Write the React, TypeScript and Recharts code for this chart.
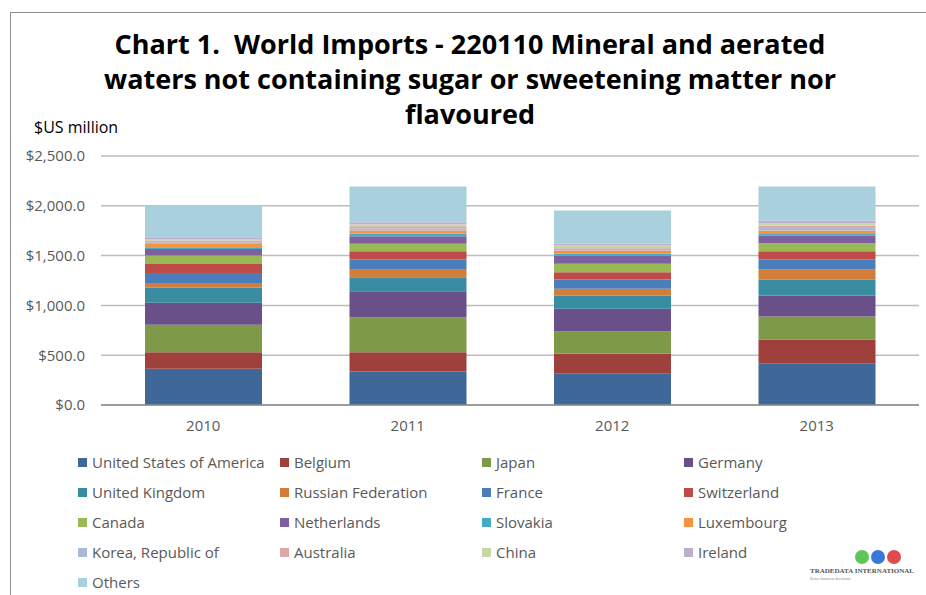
import React from "react";
import { BarChart, Bar, XAxis, YAxis, CartesianGrid } from "recharts";

// categories
const YEARS = ["2010", "2011", "2012", "2013"];

// series values ($US million), stacked bottom to top
const USA = [363, 336, 313, 413];
const BELGIUM = [167, 194, 201, 245];
const JAPAN = [275, 352, 224, 230];
const GERMANY = [221, 261, 228, 211];
const UK = [150, 140, 133, 158];
const RUSSIA = [50, 74, 67, 107];
const FRANCE = [100, 104, 94, 97];
const SWITZERLAND = [90, 83, 73, 83];
const CANADA = [84, 74, 84, 81];
const NETHERLANDS = [67, 77, 84, 77];
const SLOVAKIA = [17, 24, 17, 23];
const LUXEMBOURG = [33, 33, 33, 27];
const KOREA = [17, 21, 17, 25];
const AUSTRALIA = [17, 21, 17, 25];
const CHINA = [16, 20, 16, 25];
const IRELAND = [17, 21, 17, 25];
const OTHERS = [318, 359, 335, 342];

const Y_TICKS = [0, 500, 1000, 1500, 2000, 2500];

const SERIES = [
    { key: "usa", name: "United States of America", values: USA, color: "#3F6898" },
    { key: "belgium", name: "Belgium", values: BELGIUM, color: "#A0403D" },
    { key: "japan", name: "Japan", values: JAPAN, color: "#7E9A48" },
    { key: "germany", name: "Germany", values: GERMANY, color: "#6A5089" },
    { key: "uk", name: "United Kingdom", values: UK, color: "#3A8CA2" },
    { key: "russia", name: "Russian Federation", values: RUSSIA, color: "#D27E39" },
    { key: "france", name: "France", values: FRANCE, color: "#4A7EBB" },
    { key: "switzerland", name: "Switzerland", values: SWITZERLAND, color: "#BE4B48" },
    { key: "canada", name: "Canada", values: CANADA, color: "#98B954" },
    { key: "netherlands", name: "Netherlands", values: NETHERLANDS, color: "#7D60A0" },
    { key: "slovakia", name: "Slovakia", values: SLOVAKIA, color: "#46AAC5" },
    { key: "luxembourg", name: "Luxembourg", values: LUXEMBOURG, color: "#F69240" },
    { key: "korea", name: "Korea, Republic of", values: KOREA, color: "#A9BADA" },
    { key: "australia", name: "Australia", values: AUSTRALIA, color: "#DDA9A8" },
    { key: "china", name: "China", values: CHINA, color: "#C6D8A8" },
    { key: "ireland", name: "Ireland", values: IRELAND, color: "#BBAFCF" },
    { key: "others", name: "Others", values: OTHERS, color: "#A8D0DD" },
];

const data = YEARS.map((year, i) => {
    const row: Record<string, any> = { year };
    SERIES.forEach(s => { row[s.key] = s.values[i]; });
    return row;
});

const FONT = "'Open Sans', Lato, sans-serif";
const TEXT_GRAY = "#595959";

const fmtMoney = (v: number) =>
    "$" + v.toLocaleString("en-US", { minimumFractionDigits: 1, maximumFractionDigits: 1 });

function Legend() {
    return (
        <div style={{ position: "absolute", left: 78, top: 451, width: 820 }}>
            {SERIES.map((s, i) => {
                const col = i % 4;
                const row = Math.floor(i / 4);
                return (
                    <div
                        key={s.key}
                        style={{
                            position: "absolute",
                            left: col * 202,
                            top: row * 30,
                            display: "flex",
                            alignItems: "center",
                            fontFamily: FONT,
                            fontSize: 15,
                            color: TEXT_GRAY,
                            whiteSpace: "nowrap",
                            height: 22,
                        }}
                    >
                        <span style={{ width: 9, height: 9, background: s.color, marginRight: 5, display: "inline-block" }} />
                        {s.name}
                    </div>
                );
            })}
        </div>
    );
}

export default function App() {
    return (
        <div style={{ position: "absolute", left: 0, top: 0, width: 926, height: 595, background: "#fff", overflow: "hidden" }}>
            {/* slide frame */}
            <div style={{ position: "absolute", left: 10, top: 12, width: 930, height: 600, border: "1px solid #8c8c8c" }} />

            <div
                style={{
                    position: "absolute",
                    left: 10,
                    top: 26,
                    width: 920,
                    textAlign: "center",
                    fontFamily: FONT,
                    fontWeight: 700,
                    fontSize: 27,
                    lineHeight: "35px",
                    color: "#000",
                }}
            >
                Chart 1.&nbsp; World Imports - 220110 Mineral and aerated<br />
                waters not containing sugar or sweetening matter nor<br />
                flavoured
            </div>

            <div style={{ position: "absolute", left: 34, top: 116, fontFamily: FONT, fontSize: 16, color: "#000" }}>
                $US million
            </div>

            <div style={{ position: "absolute", left: 0, top: 0 }}>
                <BarChart width={926} height={595} data={data} margin={{ top: 156, right: 7, left: 0, bottom: 0 }} barSize={117}>
                    <CartesianGrid vertical={false} stroke="#BDBDBD" strokeWidth={1.5} />
                    <XAxis
                        dataKey="year"
                        height={190}
                        axisLine={{ stroke: "#8c8c8c", strokeWidth: 1.5 }}
                        tickLine={false}
                        tick={{ fill: TEXT_GRAY, fontSize: 15, fontFamily: FONT }}
                        tickMargin={9}
                    />
                    <YAxis
                        width={101}
                        domain={[0, 2500]}
                        ticks={Y_TICKS}
                        axisLine={false}
                        tickLine={false}
                        tickMargin={10}
                        tickFormatter={fmtMoney}
                        tick={{ fill: TEXT_GRAY, fontSize: 15, fontFamily: FONT }}
                    />
                    {SERIES.map(s => (
                        <Bar key={s.key} dataKey={s.key} name={s.name} stackId="a" fill={s.color} isAnimationActive={false} />
                    ))}
                </BarChart>
            </div>

            <Legend />

            {/* logo */}
            <svg style={{ position: "absolute", left: 800, top: 545 }} width={126} height={40}>
                <circle cx={62} cy={12} r={7} fill="#5fc45a" />
                <circle cx={78} cy={12} r={7} fill="#3a78d8" />
                <circle cx={94} cy={12} r={7} fill="#e04a4a" />
                <text x={10} y={28} fontSize={7} fontFamily="'Liberation Serif', serif" fill="#555" fontWeight={700}>
                    TRADEDATA INTERNATIONAL
                </text>
                <text x={10} y={35} fontSize={4} fontFamily="'Liberation Serif', serif" fill="#888">
                    Better business decisions
                </text>
            </svg>
        </div>
    );
}
